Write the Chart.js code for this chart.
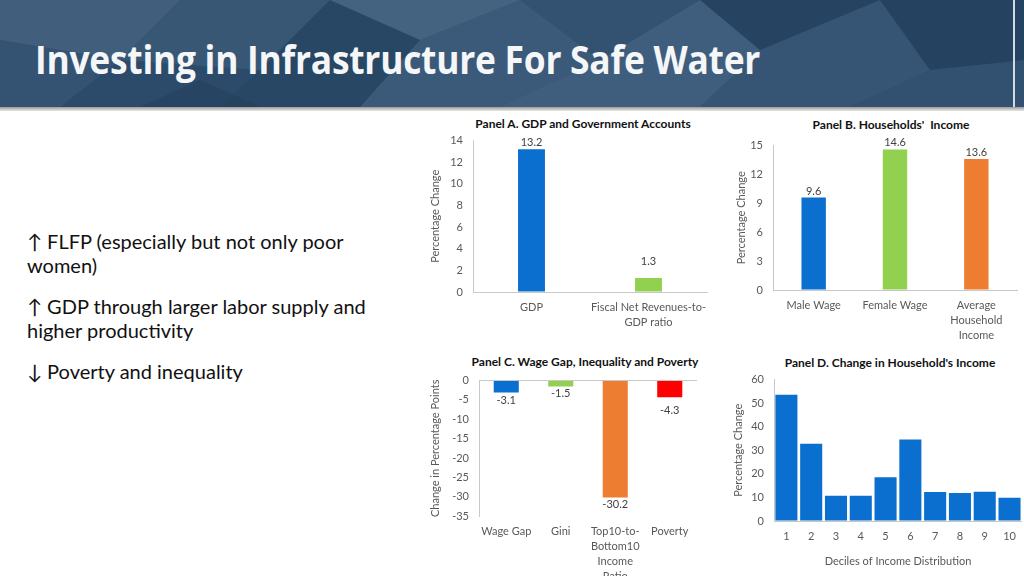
<!DOCTYPE html>
<html>
<head>
<meta charset="utf-8">
<script src="https://cdn.jsdelivr.net/npm/chart.js@4"></script>
<style>
  body { margin: 0; width: 1024px; height: 576px; overflow: hidden; background: #fff; position: relative; font-family: Lato, "DejaVu Sans", sans-serif; }
  #header { position: absolute; left: 0; top: 0; width: 1024px; height: 107px; background: #2c4b6a; overflow: hidden; }
  #header svg { position: absolute; left: 0; top: 0; }
  #header h1 { position: absolute; left: 35px; top: 31px; margin: 0; font-family: "Open Sans", sans-serif; font-weight: bold; font-size: 40px; color: #f4f6f8; white-space: nowrap; transform: scaleX(0.885); transform-origin: left top; letter-spacing: -0.3px; }
  #shadow { position: absolute; left: 0; top: 107px; width: 1024px; height: 4px; background: linear-gradient(#9a9a9a, #e8e8e8); }
  #edge { position: absolute; left: 1013px; top: 0; width: 2px; height: 107px; background: #cfdbe7; }
  .bullets { position: absolute; left: 27px; top: 229px; width: 375px; font-size: 20px; color: #111; line-height: 24px; }
  .bullets p { margin: 0 0 17px 0; }
  .ptitle { position: absolute; font-weight: bold; font-size: 12px; color: #111; white-space: nowrap; transform: translateX(-50%); }
  .box { position: absolute; }
</style>
</head>
<body>
<div id="header">
  <svg width="1024" height="107">
    <polygon points="0,0 180,0 120,60 0,40" fill="#5a7794" opacity="0.45"/>
    <polygon points="0,40 120,60 60,107 0,107" fill="#3b5a79" opacity="0.5"/>
    <polygon points="180,0 330,0 260,70 120,60" fill="#4c6a88" opacity="0.4"/>
    <polygon points="260,70 330,0 420,40 360,107 220,107" fill="#24405c" opacity="0.4"/>
    <polygon points="330,0 520,0 420,40" fill="#6a86a2" opacity="0.4"/>
    <polygon points="420,40 520,0 600,60 500,107 360,107" fill="#5a7896" opacity="0.35"/>
    <polygon points="520,0 700,0 600,60" fill="#3a5878" opacity="0.5"/>
    <polygon points="600,60 700,0 760,50 700,107 500,107" fill="#6583a0" opacity="0.35"/>
    <polygon points="700,0 880,0 760,50" fill="#1f3a56" opacity="0.4"/>
    <polygon points="760,50 880,0 930,70 850,107 700,107" fill="#4a6988" opacity="0.35"/>
    <polygon points="880,0 1024,0 1024,60 930,70" fill="#1c3652" opacity="0.4"/>
    <polygon points="930,70 1024,60 1024,107 850,107" fill="#3c5b7a" opacity="0.4"/>
    <polygon points="140,107 200,80 260,107" fill="#1f3a56" opacity="0.35"/>
  </svg>
  <h1>Investing in Infrastructure For Safe Water</h1>
</div>
<div id="shadow"></div>
<div id="edge"></div>

<div class="bullets">
  <p>↑ FLFP (especially but not only poor women)</p>
  <p>↑ GDP through larger labor supply and higher productivity</p>
  <p>↓ Poverty and inequality</p>
</div>

<div class="ptitle" style="left:583px; top:116px;">Panel A. GDP and Government Accounts</div>
<div class="ptitle" style="left:891px; top:117px;">Panel B. Households'&nbsp; Income</div>
<div class="ptitle" style="left:585px; top:354px;">Panel C. Wage Gap, Inequality and Poverty</div>
<div class="ptitle" style="left:890px; top:355px;">Panel D. Change in Household's Income</div>

<div class="box" style="left:420px; top:124px; width:300px; height:218px;"><canvas id="chartA"></canvas></div>
<div class="box" style="left:720px; top:129px; width:304px; height:215px;"><canvas id="chartB"></canvas></div>
<div class="box" style="left:420px; top:364px; width:300px; height:212px;"><canvas id="chartC"></canvas></div>
<div class="box" style="left:720px; top:363px; width:304px; height:213px;"><canvas id="chartD"></canvas></div>

<script>
// Panel A
const panelALabels = ['GDP', ['Fiscal Net Revenues-to-', 'GDP ratio']];
const panelAValues = [13.2, 1.3];
const panelAColors = ['#0a6fce', '#92d050'];
const panelATicks = { min: 0, max: 14, step: 2 };

// Panel B
const panelBLabels = ['Male Wage', 'Female Wage', ['Average', 'Household', 'Income']];
const panelBValues = [9.6, 14.6, 13.6];
const panelBColors = ['#0a6fce', '#92d050', '#ed7d31'];
const panelBTicks = { min: 0, max: 15, step: 3 };

// Panel C
const panelCLabels = ['Wage Gap', 'Gini', ['Top10-to-', 'Bottom10', 'Income', 'Ratio'], 'Poverty'];
const panelCValues = [-3.1, -1.5, -30.2, -4.3];
const panelCColors = ['#0a6fce', '#92d050', '#ed7d31', '#ff0000'];
const panelCTicks = { min: -35, max: 0, step: 5 };

// Panel D
const panelDLabels = ['1', '2', '3', '4', '5', '6', '7', '8', '9', '10'];
const panelDValues = [53.6, 32.8, 10.7, 10.7, 18.6, 34.6, 12.3, 11.9, 12.4, 9.9];
const panelDTicks = { min: 0, max: 60, step: 10 };

const tickColor = '#595959';
const axisColor = '#c8c8c8';
const chartFont = 'Lato, "DejaVu Sans", sans-serif';

// value labels drawn on top of (or under) each bar
const barLabels = {
    id: 'barLabels',
    afterDatasetsDraw(chart, args, opts) {
        if (!opts.show) return;
        const ctx = chart.ctx;
        const values = chart.data.datasets[0].data;
        const meta = chart.getDatasetMeta(0);
        ctx.save();
        ctx.font = '11px ' + chartFont;
        ctx.fillStyle = '#404040';
        ctx.textAlign = 'center';
        meta.data.forEach((bar, i) => {
            const v = values[i];
            const extra = (opts.offsets && opts.offsets[i]) || 0;
            if (v >= 0) {
                ctx.textBaseline = 'bottom';
                ctx.fillText(v.toFixed(1), bar.x, bar.y - 1 - extra);
            } else {
                ctx.textBaseline = 'top';
                ctx.fillText(v.toFixed(1), bar.x, bar.y + 2 + extra);
            }
        });
        ctx.restore();
    }
};

function makeBarChart(id, cfg) {
    const ctx = document.getElementById(id).getContext('2d');
    return new Chart(ctx, {
        type: 'bar',
        data: {
            labels: cfg.labels,
            datasets: [{
                data: cfg.values,
                backgroundColor: cfg.colors,
                borderWidth: 0,
                categoryPercentage: 1,
                barPercentage: cfg.barPct
            }]
        },
        options: {
            responsive: true,
            maintainAspectRatio: false,
            animation: false,
            layout: { padding: cfg.padding },
            plugins: {
                legend: { display: false },
                tooltip: { enabled: false },
                barLabels: { show: cfg.showLabels, offsets: cfg.labelOffsets }
            },
            scales: {
                x: {
                    grid: { display: false, drawTicks: false },
                    border: { display: cfg.xBorder, color: axisColor },
                    ticks: {
                        color: tickColor,
                        font: { family: chartFont, size: 11, lineHeight: 1.36 },
                        padding: 8,
                        autoSkip: false,
                        maxRotation: 0
                    },
                    title: cfg.xTitle ? {
                        display: true,
                        text: cfg.xTitle,
                        color: tickColor,
                        font: { family: chartFont, size: 11 },
                        padding: { top: 0, bottom: 8 }
                    } : { display: false },
                    afterFit: scale => { scale.height = cfg.xHeight; }
                },
                y: {
                    min: cfg.ticks.min,
                    max: cfg.ticks.max,
                    grid: {
                        drawTicks: false,
                        color: c => (cfg.zeroLine && c.tick && c.tick.value === 0) ? axisColor : 'rgba(0,0,0,0)'
                    },
                    border: { display: true, color: axisColor },
                    ticks: {
                        stepSize: cfg.ticks.step,
                        color: tickColor,
                        font: { family: chartFont, size: 11 },
                        padding: 10
                    },
                    title: {
                        display: true,
                        text: cfg.yTitle,
                        color: tickColor,
                        font: { family: chartFont, size: 11 },
                        padding: { top: cfg.yTitlePad, bottom: 0 }
                    },
                    afterFit: scale => { scale.width = cfg.yWidth; }
                }
            }
        },
        plugins: [barLabels]
    });
}

makeBarChart('chartA', {
    labels: panelALabels, values: panelAValues, colors: panelAColors, ticks: panelATicks,
    barPct: 0.23, padding: { top: 0, right: 13, left: 0, bottom: 0 },
    xHeight: 50, yWidth: 53, yTitle: 'Percentage Change', yTitlePad: 9,
    xBorder: true, showLabels: true, labelOffsets: [0, 10]
});

makeBarChart('chartB', {
    labels: panelBLabels, values: panelBValues, colors: panelBColors, ticks: panelBTicks,
    barPct: 0.3, padding: { top: 0, right: 7, left: 0, bottom: 0 },
    xHeight: 54, yWidth: 53, yTitle: 'Percentage Change', yTitlePad: 15,
    xBorder: true, showLabels: true
});

makeBarChart('chartC', {
    labels: panelCLabels, values: panelCValues, colors: panelCColors, ticks: panelCTicks,
    barPct: 0.46, padding: { top: 0, right: 23, left: 0, bottom: 0 },
    xHeight: 60, yWidth: 59, yTitle: 'Change in Percentage Points', yTitlePad: 9,
    xBorder: false, zeroLine: true, showLabels: true, labelOffsets: [0, 0, 0, 6]
});

makeBarChart('chartD', {
    labels: panelDLabels, values: panelDValues, colors: '#0a6fce', ticks: panelDTicks,
    barPct: 0.89, padding: { top: 0, right: 2, left: 0, bottom: 0 },
    xHeight: 55, yWidth: 54, yTitle: 'Percentage Change', yTitlePad: 12,
    xBorder: true, showLabels: false, xTitle: 'Deciles of Income Distribution'
});
</script>
</body>
</html>
